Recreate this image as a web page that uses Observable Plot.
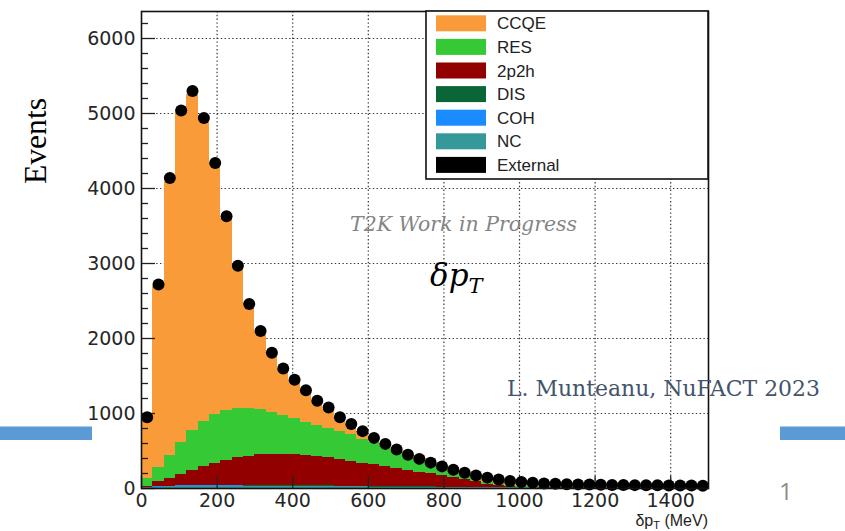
<!DOCTYPE html>
<html>
<head>
<meta charset="utf-8">
<script src="https://cdn.jsdelivr.net/npm/d3@7"></script>
<script src="https://cdn.jsdelivr.net/npm/@observablehq/plot@0.6"></script>
<style>
html, body { margin: 0; padding: 0; background: #fff; }
#page { position: relative; width: 845px; height: 531px; overflow: hidden; background: #fff; }
#chart { position: absolute; left: 80px; top: 0; width: 700px; height: 531px; overflow: hidden; }
#overlay { position: absolute; left: 0; top: 0; pointer-events: none; }
</style>
</head>
<body>
<div id="page">
  <div id="chart"></div>
  <svg id="overlay" width="845" height="531"></svg>
</div>
<script>
// ---------- DATA ----------
const binEdges = [0,30,60,90,120,150,180,210,240,270,300,330,360,390,420,450,480,510,540,570,
  600,630,660,690,720,750,780,810,840,870,900,930,960,990,1020,1050,1080,1110,1140,1170,
  1200,1230,1260,1290,1320,1350,1380,1410,1440,1470,1500];

const compNames  = ["CCQE", "RES", "2p2h", "DIS", "COH", "NC", "External"];
const compColors = ["#F99B38", "#36C936", "#920000", "#0A6636", "#1A8CFF", "#35999A", "#000000"];
const stackOrder = ["External", "NC", "COH", "DIS", "2p2h", "RES", "CCQE"]; // bottom -> top

const ccqe = [801,2410,3650,4445,4485,4080,3340,2560,1928,1418,
  1040,780,612,508,414,318,258,190,134,100,
  63,45,35,35,32,30,30,32,35,40,
  45,45,42,40,38,35,32,30,28,27,
  26,25,24,24,23,22,22,21,21,20];
const res = [107,185,300,425,535,600,655,662,653,630,
  603,567,525,483,446,415,393,370,351,315,
  292,268,245,215,188,169,131,95,65,40,
  27,20,17,15,12,9,7,6,5,4,
  3,3,2,2,2,1,1,1,1,1];
const twoP2h = [10,71,108,153,201,250,294,337,367,391,
  405,412,413,410,403,391,374,357,333,309,
  286,262,238,215,195,175,155,132,104,73,
  45,26,14,7,3,2,1,1,1,1,
  0,0,0,0,0,0,0,0,0,0];
const dis = [0,1,2,3,4,5,6,7,8,9,
  10,10,11,11,11,11,11,10,10,10,
  9,9,8,8,7,7,6,6,5,5,
  4,4,3,3,3,2,2,2,2,2,
  1,1,1,1,1,1,1,1,1,1];
const coh = [2,5,6,6,5,4,3,2,2,1,
  1,1,1,1,0,0,0,0,0,0,
  0,0,0,0,0,0,0,0,0,0,
  0,0,0,0,0,0,0,0,0,0,
  0,0,0,0,0,0,0,0,0,0];
const nc = [8,15,20,24,26,27,28,28,28,27,
  27,26,25,24,23,22,21,20,19,18,
  17,16,15,14,13,12,11,10,9,8,
  7,6,6,5,5,4,4,4,3,3,
  3,3,2,2,2,2,2,2,2,2];
const external = [2,3,4,4,4,4,4,4,4,4,
  4,4,3,3,3,3,3,3,3,3,
  3,3,3,3,3,2,2,2,2,2,
  2,2,2,2,2,2,2,2,2,2,
  2,2,2,2,2,2,2,2,2,2];
const dataPoints = [950,2720,4140,5040,5300,4940,4340,3630,2970,2460,
  2100,1810,1600,1450,1310,1170,1080,950,860,765,
  675,595,520,450,395,345,295,250,210,175,
  145,120,100,88,78,68,62,58,55,52,
  50,48,46,45,44,42,41,40,40,38];

const xTickValues = [0,200,400,600,800,1000,1200,1400];
const yTickValues = [0,1000,2000,3000,4000,5000,6000];
const yMinorTicks = [200,400,600,800,1200,1400,1600,1800,2200,2400,2600,2800,3200,3400,3600,3800,
  4200,4400,4600,4800,5200,5400,5600,5800,6200];

// ---------- TABLES ----------
const compValues = [ccqe, res, twoP2h, dis, coh, nc, external];
const rows = [];
compNames.forEach((name, k) => {
  compValues[k].forEach((v, i) => rows.push({lo: binEdges[i], hi: binEdges[i + 1], comp: name, value: v}));
});
const points = dataPoints.map((v, i) => ({x: (binEdges[i] + binEdges[i + 1]) / 2, y: v}));

// ---------- PLOT ----------
const W = 700, H = 531, mL = 61, mR = 72, mT = 11, mB = 43;
const plotW = W - mL - mR, plotH = H - mT - mB;
const gridStyle = {stroke: "#222", strokeOpacity: 0.9, strokeDasharray: "1.4,2.4", strokeWidth: 1.2};

const chart = Plot.plot({
  width: W, height: H,
  marginLeft: mL, marginRight: mR, marginTop: mT, marginBottom: mB,
  style: {fontFamily: "'DejaVu Sans', 'Liberation Sans', Arial, sans-serif", fontSize: "19px", color: "#262626", background: "#fff"},
  x: {domain: [0, 1500]},
  y: {domain: [0, 6360]},
  color: {domain: compNames, range: compColors},
  marks: [
    Plot.gridX(xTickValues.filter(d => d > 0), gridStyle),
    Plot.gridY(yTickValues.filter(d => d > 0), gridStyle),
    Plot.rectY(rows, {x1: "lo", x2: "hi", y: "value", fill: "comp", order: stackOrder, shapeRendering: "crispEdges"}),
    Plot.tickY(yMinorTicks, {y: d => d, insetRight: plotW - 7, stroke: "#222", strokeWidth: 1.3}),
    Plot.tickY(yTickValues, {y: d => d, insetRight: plotW - 14, stroke: "#222", strokeWidth: 1.3}),
    Plot.tickX(xTickValues, {x: d => d, insetTop: plotH - 12, stroke: "#222", strokeWidth: 1.3}),
    Plot.dot(points, {x: "x", y: "y", r: 6, fill: "#000"}),
    Plot.axisX({ticks: xTickValues, tickSize: 0, tickPadding: 5, label: null, tickFormat: d3.format("d")}),
    Plot.axisY({ticks: yTickValues, tickSize: 0, tickPadding: 6, label: null, tickFormat: d3.format("d")}),
    Plot.frame({stroke: "#111", strokeWidth: 1.6})
  ]
});
document.getElementById("chart").appendChild(chart);

// ---------- OVERLAY (legend + slide text) ----------
const ov = d3.select("#overlay");
ov.append("rect").attr("x", 0).attr("y", 426.5).attr("width", 92).attr("height", 13.5).attr("fill", "#5B9BD5");
ov.append("rect").attr("x", 780).attr("y", 426.5).attr("width", 65).attr("height", 13.5).attr("fill", "#5B9BD5");

const lg = ov.append("g");
lg.append("rect").attr("x", 426).attr("y", 11).attr("width", 282).attr("height", 168)
  .attr("fill", "#fff").attr("stroke", "#111").attr("stroke-width", 1.6);
compNames.forEach((n, i) => {
  const cy = 23.3 + i * 23.6;
  lg.append("rect").attr("x", 436).attr("y", cy - 8).attr("width", 50).attr("height", 16).attr("fill", compColors[i]);
  lg.append("text").attr("x", 497).attr("y", cy + 6).attr("font-family", "'Liberation Sans', Arial, sans-serif")
    .attr("font-size", 17).attr("fill", "#222").text(n);
});

// axis title
const at = ov.append("text").attr("x", 708).attr("y", 526).attr("text-anchor", "end")
  .attr("font-family", "'Liberation Sans', Arial, sans-serif").attr("font-size", 16).attr("fill", "#222");
at.append("tspan").text("δp");
at.append("tspan").attr("dy", 2.5).attr("font-size", 11).text("T");
at.append("tspan").attr("dy", -2.5).text(" (MeV)");

// Events
ov.append("text").attr("transform", "translate(46,141) rotate(-90)").attr("text-anchor", "middle")
  .attr("font-family", "'Liberation Serif', 'Times New Roman', serif").attr("font-size", 31)
  .attr("textLength", 86).attr("lengthAdjust", "spacingAndGlyphs").attr("fill", "#000").text("Events");

// T2K Work in Progress
ov.append("text").attr("x", 350).attr("y", 231)
  .attr("font-family", "'DejaVu Serif', serif").attr("font-style", "italic").attr("font-size", 20)
  .attr("textLength", 227).attr("lengthAdjust", "spacingAndGlyphs").attr("fill", "#858585").text("T2K Work in Progress");

// delta p_T
const dp = ov.append("text").attr("x", 430).attr("y", 286)
  .attr("font-family", "'DejaVu Serif', serif").attr("font-style", "italic").attr("font-size", 31).attr("fill", "#000");
dp.append("tspan").text("δp");
dp.append("tspan").attr("dy", 7).attr("font-size", 21).text("T");

// author
ov.append("text").attr("x", 507).attr("y", 396)
  .attr("font-family", "'DejaVu Serif', serif").attr("font-size", 23)
  .attr("textLength", 313).attr("lengthAdjust", "spacingAndGlyphs").attr("fill", "#44546A").text("L. Munteanu, NuFACT 2023");

// page number
ov.append("text").attr("x", 779).attr("y", 500)
  .attr("font-family", "'Open Sans', sans-serif").attr("font-size", 24).attr("fill", "#8C8C8C").text("1");
</script>
</body>
</html>
